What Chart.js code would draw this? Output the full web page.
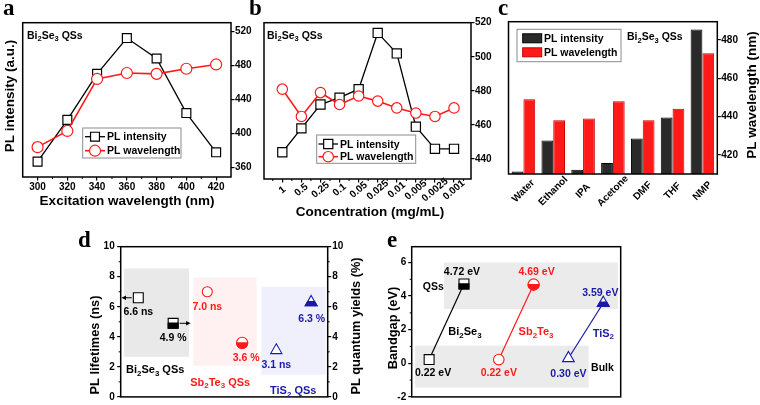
<!DOCTYPE html>
<html><head><meta charset="utf-8">
<script src="https://cdn.jsdelivr.net/npm/chart.js@4.4.1/dist/chart.umd.min.js"></script>
<style>
html,body{margin:0;padding:0;background:#fff;}
#wrap{position:relative;width:760px;height:405px;overflow:hidden;background:#fff;}
#wrap canvas{position:absolute;left:0;top:0;}
</style></head><body>
<div id="wrap">
<canvas id="ca" width="760" height="405"></canvas>
<canvas id="cb" width="760" height="405"></canvas>
<canvas id="cc" width="760" height="405"></canvas>
<canvas id="cd" width="760" height="405"></canvas>
<canvas id="ce" width="760" height="405"></canvas>
</div>
<script>
// ---------------- data ----------------
const excitation = [300, 320, 340, 360, 380, 400, 420];
const excIntensity = [367, 416, 470, 512, 488, 424, 378];
const excWavelength = [384, 403, 464, 471, 470, 476, 481];
const excTicksR = [360, 400, 440, 480, 520];

const concentrations = ['1', '0.5', '0.25', '0.1', '0.05', '0.025', '0.01', '0.005', '0.0025', '0.001'];
const concIntensity = [444, 458, 472, 476, 481, 514, 502, 459, 446, 446];
const concWavelength = [481, 465, 479, 472, 477, 474, 470, 467, 465, 470];
const concTicksR = [440, 460, 480, 500, 520];

const solvents = ['Water', 'Ethanol', 'IPA', 'Acetone', 'DMF', 'THF', 'NMP'];
const solvIntensity = [411.3, 427.5, 412.2, 415.7, 428.5, 439.5, 485.4];
const solvWavelength = [449, 438, 439, 448, 438, 444, 473];
const solvTicksR = [420, 440, 460, 480];

const materials = ['Bi_2Se_3', 'Sb_2Te_3', 'TiS_2'];
const lifetimes = [6.6, 7.0, 3.1];
const quantumYields = [4.9, 3.6, 6.3];
const dTicks = [0, 2, 4, 6, 8, 10];

const bulkGap = [0.22, 0.22, 0.30];
const qsGap = [4.72, 4.69, 3.59];
const eTicks = [-2, 0, 2, 4, 6];

// ---------------- style ----------------
const FONT = '"Liberation Sans", Arial, sans-serif';
const SERIF = '"Liberation Serif", "Times New Roman", serif';
const RED = '#ff1a1a', BLUE = '#1a1aa6', BLACK = '#000';
const matColors = [BLACK, RED, BLUE];
const matMarkers = ['rect', 'circle', 'triangle'];

function fixSize(size) {
  return s => {
    if (s.isHorizontal()) s.height = size; else s.width = size;
    s.paddingLeft = s.paddingRight = s.paddingTop = s.paddingBottom = 0;
  };
}
function tk(extra) { return Object.assign({color: '#000', font: {family: FONT, size: 10, weight: 'bold'}, padding: 1}, extra || {}); }
const grid = {display: true, drawOnChartArea: false, drawTicks: true, tickLength: 3.5, color: '#000', lineWidth: 1.2};
const setTicks = arr => s => { s.ticks = arr.map(v => ({value: v})); };
const base = {responsive: false, animation: false, events: [], devicePixelRatio: 1,
  plugins: {legend: {display: false}, tooltip: {enabled: false}}};

function text(ctx, str, x, y, o) {
  o = o || {};
  const size = o.size || 10.5, fam = o.family || FONT, wt = o.weight || 'bold';
  const parts = []; let buf = '';
  for (let k = 0; k < str.length; k++) {
    if (str[k] === '_' && k + 1 < str.length) { if (buf) parts.push({t: buf, sub: false}); buf = ''; parts.push({t: str[k + 1], sub: true}); k++; }
    else buf += str[k];
  }
  if (buf) parts.push({t: buf, sub: false});
  let total = 0;
  parts.forEach(p => { p.f = wt + ' ' + (p.sub ? size * 0.72 : size) + 'px ' + fam; ctx.font = p.f; p.w = ctx.measureText(p.t).width; total += p.w; });
  ctx.save(); ctx.translate(x, y); if (o.rotate) ctx.rotate(o.rotate);
  let cx = o.align === 'left' ? 0 : o.align === 'right' ? -total : -total / 2;
  ctx.fillStyle = o.color || '#000'; ctx.textBaseline = 'alphabetic'; ctx.textAlign = 'left';
  const bl = o.baseline ? 0 : size * 0.36;
  parts.forEach(p => { ctx.font = p.f; ctx.fillText(p.t, cx, bl + (p.sub ? size * 0.24 : 0)); cx += p.w; });
  ctx.restore();
}
function markerPath(ctx, style, x, y, r) {
  ctx.beginPath();
  if (style === 'rect') { const s = r * Math.SQRT1_2; ctx.rect(x - s, y - s, 2 * s, 2 * s); }
  else if (style === 'triangle') { ctx.moveTo(x, y - r); ctx.lineTo(x + r * 0.866, y + r * 0.5); ctx.lineTo(x - r * 0.866, y + r * 0.5); ctx.closePath(); }
  else ctx.arc(x, y, r, 0, Math.PI * 2);
}
function halfFill(ctx, el, color) {
  const st = el.options.pointStyle, r = el.options.radius;
  const cut = st === 'triangle' ? el.y - 0.2 * r : el.y - 0.1 * r;
  ctx.save(); ctx.beginPath(); ctx.rect(el.x - r - 2, cut, 2 * r + 4, 2 * r + 4); ctx.clip();
  markerPath(ctx, st, el.x, el.y, r); ctx.fillStyle = color; ctx.fill();
  ctx.lineWidth = el.options.borderWidth; ctx.strokeStyle = color; ctx.stroke(); ctx.restore();
}
function frame(ctx, ca) {
  ctx.save(); ctx.strokeStyle = '#000'; ctx.lineWidth = 1.5;
  ctx.strokeRect(ca.left, ca.top, ca.right - ca.left, ca.bottom - ca.top); ctx.restore();
}
function minor(ctx, scale, values, side, len) {
  ctx.save(); ctx.strokeStyle = '#000'; ctx.lineWidth = 1;
  values.forEach(v => {
    const p = scale.getPixelForValue(v); ctx.beginPath();
    if (side === 'bottom') { ctx.moveTo(p, scale.top); ctx.lineTo(p, scale.top + len); }
    else if (side === 'left') { ctx.moveTo(scale.right, p); ctx.lineTo(scale.right - len, p); }
    else { ctx.moveTo(scale.left, p); ctx.lineTo(scale.left + len, p); }
    ctx.stroke();
  });
  ctx.restore();
}
function rotLabels(ctx, scale, deg, cy, size) {
  scale.ticks.forEach((t, i) => {
    const x = scale.getPixelForTick(i);
    ctx.save(); ctx.font = 'bold ' + size + 'px ' + FONT; ctx.translate(x, cy); ctx.rotate(-deg * Math.PI / 180);
    ctx.textAlign = 'center'; ctx.textBaseline = 'middle'; ctx.fillStyle = '#000'; ctx.fillText(String(t.label), 0, 0); ctx.restore();
  });
}
function lineLegend(ctx, chart, L) {
  ctx.save(); ctx.fillStyle = '#fff'; ctx.fillRect(L.x, L.y, L.w, L.h);
  ctx.strokeStyle = '#8c8c8c'; ctx.lineWidth = 1; ctx.strokeRect(L.x, L.y, L.w, L.h);
  chart.data.datasets.forEach((ds, i) => {
    const y = L.rows[i];
    ctx.strokeStyle = ds.borderColor; ctx.lineWidth = ds.borderWidth;
    ctx.beginPath(); ctx.moveTo(L.sx1, y); ctx.lineTo(L.sx2, y); ctx.stroke();
    markerPath(ctx, ds.pointStyle, (L.sx1 + L.sx2) / 2, y, ds.pointRadius);
    ctx.fillStyle = '#fff'; ctx.fill(); ctx.lineWidth = ds.pointBorderWidth; ctx.strokeStyle = ds.pointBorderColor; ctx.stroke();
    text(ctx, ds.label, L.tx, y, {size: 10.5, align: 'left'});
  });
  ctx.restore();
}
function barLegend(ctx, chart, L) {
  ctx.save(); ctx.fillStyle = '#fff'; ctx.fillRect(L.x, L.y, L.w, L.h);
  ctx.strokeStyle = '#8c8c8c'; ctx.lineWidth = 1; ctx.strokeRect(L.x, L.y, L.w, L.h);
  chart.data.datasets.forEach((ds, i) => {
    const y = L.rows[i];
    ctx.fillStyle = ds.backgroundColor; ctx.fillRect(L.sx, y - 4.5, L.sw, 9);
    ctx.strokeStyle = ds.borderColor; ctx.lineWidth = 1; ctx.strokeRect(L.sx, y - 4.5, L.sw, 9);
    text(ctx, ds.label, L.tx, y, {size: 10.5, align: 'left'});
  });
  ctx.restore();
}
function arrow(ctx, x1, y, x2, color) {
  const dir = Math.sign(x2 - x1);
  ctx.save(); ctx.strokeStyle = color; ctx.fillStyle = color; ctx.lineWidth = 1;
  ctx.beginPath(); ctx.moveTo(x1, y); ctx.lineTo(x2 - dir * 3, y); ctx.stroke();
  ctx.beginPath(); ctx.moveTo(x2, y); ctx.lineTo(x2 - dir * 4.5, y - 2.3); ctx.lineTo(x2 - dir * 4.5, y + 2.3); ctx.closePath(); ctx.fill();
  ctx.restore();
}
function shade(ctx, chart, list, yId) {
  const xs = chart.scales.x, ys = chart.scales[yId];
  list.forEach(r => {
    const x0 = xs.getPixelForValue(r.x0), x1 = xs.getPixelForValue(r.x1);
    const y0 = ys.getPixelForValue(r.y1), y1 = ys.getPixelForValue(r.y0);
    ctx.fillStyle = r.color; ctx.fillRect(x0, y0, x1 - x0, y1 - y0);
  });
}

// ---------------- panel a ----------------
new Chart(document.getElementById('ca'), {
  type: 'line',
  data: {datasets: [
    {label: 'PL intensity', data: excitation.map((x, i) => ({x, y: excIntensity[i]})), yAxisID: 'y', order: 1,
     borderColor: BLACK, borderWidth: 1.3, pointStyle: 'rect', pointRadius: 6.3, pointBackgroundColor: '#fff', pointBorderColor: BLACK, pointBorderWidth: 1.2},
    {label: 'PL wavelength', data: excitation.map((x, i) => ({x, y: excWavelength[i]})), yAxisID: 'y2', order: 0,
     borderColor: RED, borderWidth: 1.6, pointStyle: 'circle', pointRadius: 5.5, pointBackgroundColor: '#fff', pointBorderColor: RED, pointBorderWidth: 1.2}
  ]},
  options: Object.assign({}, base, {
    layout: {padding: {left: 22.7, top: 22.7, right: 499, bottom: 198}},
    scales: {
      x: {type: 'linear', min: 290, max: 430, afterBuildTicks: setTicks(excitation), ticks: tk(), grid: grid, border: {display: false}, afterFit: fixSize(30)},
      y: {display: false, min: 349, max: 530},
      y2: {position: 'right', min: 349, max: 530, afterBuildTicks: setTicks(excTicksR), ticks: tk({padding: 0.5}), grid: grid, border: {display: false}, afterFit: fixSize(30)}
    }
  }),
  plugins: [{id: 'decoA', afterDraw(chart) {
    const ctx = chart.ctx, ca = chart.chartArea;
    frame(ctx, ca);
    minor(ctx, chart.scales.x, [310, 330, 350, 370, 390, 410], 'bottom', 2);
    text(ctx, 'a', 3, 15, {size: 23, family: SERIF, align: 'left', baseline: true});
    text(ctx, 'Bi_2Se_3 QSs', 27, 35, {size: 10.5, align: 'left'});
    text(ctx, 'PL intensity (a.u.)', 9, 96, {size: 13.5, rotate: -Math.PI / 2});
    text(ctx, 'Excitation wavelength (nm)', 127, 200, {size: 13.5});
    lineLegend(ctx, chart, {x: 82.7, y: 128, w: 98.3, h: 30, rows: [136.7, 150.7], sx1: 85, sx2: 105, tx: 107});
  }}]
});

// ---------------- panel b ----------------
new Chart(document.getElementById('cb'), {
  type: 'line',
  data: {datasets: [
    {label: 'PL intensity', data: concIntensity.map((y, i) => ({x: i, y})), yAxisID: 'y', order: 1,
     borderColor: BLACK, borderWidth: 1.3, pointStyle: 'rect', pointRadius: 6.5, pointBackgroundColor: '#fff', pointBorderColor: BLACK, pointBorderWidth: 1.2},
    {label: 'PL wavelength', data: concWavelength.map((y, i) => ({x: i, y})), yAxisID: 'y2', order: 0,
     borderColor: RED, borderWidth: 1.6, pointStyle: 'circle', pointRadius: 5.2, pointBackgroundColor: '#fff', pointBorderColor: RED, pointBorderWidth: 1.2}
  ]},
  options: Object.assign({}, base, {
    layout: {padding: {left: 264, top: 22.7, right: 259, bottom: 186}},
    scales: {
      x: {type: 'linear', min: -0.96, max: 9.89, afterBuildTicks: setTicks(concentrations.map((c, i) => i)),
          ticks: tk({display: false, callback: v => concentrations[v]}), grid: grid, border: {display: false}, afterFit: fixSize(40)},
      y: {display: false, min: 428.3, max: 520},
      y2: {position: 'right', min: 428.3, max: 520, afterBuildTicks: setTicks(concTicksR), ticks: tk({padding: 0.5}), grid: grid, border: {display: false}, afterFit: fixSize(30)}
    }
  }),
  plugins: [{id: 'decoB', afterDraw(chart) {
    const ctx = chart.ctx, ca = chart.chartArea;
    frame(ctx, ca);
    minor(ctx, chart.scales.x, [-0.5, 0.5, 1.5, 2.5, 3.5, 4.5, 5.5, 6.5, 7.5, 8.5, 9.5], 'bottom', 2);
    rotLabels(ctx, chart.scales.x, 40, 190, 10);
    text(ctx, 'b', 249, 15, {size: 23, family: SERIF, align: 'left', baseline: true});
    text(ctx, 'Bi_2Se_3 QSs', 267, 35, {size: 10.5, align: 'left'});
    text(ctx, 'Concentration (mg/mL)', 370, 211, {size: 13.5});
    lineLegend(ctx, chart, {x: 316.7, y: 135, w: 99, h: 28.3, rows: [144, 156.7], sx1: 318.5, sx2: 338, tx: 340});
  }}]
});

// ---------------- panel c ----------------
new Chart(document.getElementById('cc'), {
  type: 'bar',
  data: {labels: solvents, datasets: [
    {label: 'PL intensity', data: solvIntensity, yAxisID: 'y', backgroundColor: '#2a2a2a', borderColor: '#000', borderWidth: 1, categoryPercentage: 0.79, barPercentage: 1},
    {label: 'PL wavelength', data: solvWavelength, yAxisID: 'y2', backgroundColor: RED, borderColor: '#c40000', borderWidth: 1, categoryPercentage: 0.79, barPercentage: 1}
  ]},
  options: Object.assign({}, base, {
    layout: {padding: {left: 508.5, top: 21.7, right: 12.7, bottom: 191}},
    scales: {
      x: {ticks: tk({display: false}), grid: {display: false}, border: {display: false}, afterFit: fixSize(40)},
      y: {display: false, min: 410, max: 489.5},
      y2: {position: 'right', min: 410, max: 489.5, afterBuildTicks: setTicks(solvTicksR), ticks: tk({padding: 0.5}), grid: grid, border: {display: false}, afterFit: fixSize(30)}
    }
  }),
  plugins: [{id: 'decoC', afterDraw(chart) {
    const ctx = chart.ctx, ca = chart.chartArea;
    frame(ctx, ca);
    rotLabels(ctx, chart.scales.x, 45, 191, 10);
    text(ctx, 'c', 498, 15, {size: 23, family: SERIF, align: 'left', baseline: true});
    barLegend(ctx, chart, {x: 517, y: 29.3, w: 104, h: 32.4, rows: [38.3, 52.3], sx: 522.7, sw: 19, tx: 544});
    text(ctx, 'Bi_2Se_3 QSs', 627, 36.7, {size: 10.5, align: 'left'});
    text(ctx, 'PL wavelength (nm)', 751.5, 95, {size: 13.5, rotate: -Math.PI / 2});
  }}]
});

// ---------------- panel d ----------------
const dLifeOffset = -0.245, dQyOffset = 0.26;
const dShades = [
  {x0: -0.45, x1: 0.49, y0: 2.67, y1: 8.55, color: '#e9e9e9'},
  {x0: 0.55, x1: 1.47, y0: 2.07, y1: 7.94, color: '#fff1f1'},
  {x0: 1.54, x1: 2.47, y0: 1.48, y1: 7.33, color: '#eff0fc'}
];
const dGroupLabelY = [369.3, 381.7, 390], dGroupLabelDx = [0, -4, 0];
const dLifeLabelDy = [13.6, 14.2, 14], dQyLabelDy = [14.3, 14.7, 16], dQyLabelDx = [0, 4, 0.6];
new Chart(document.getElementById('cd'), {
  type: 'scatter',
  data: {datasets: [
    {label: 'PL lifetimes', data: lifetimes.map((v, i) => ({x: i + dLifeOffset, y: v})), yAxisID: 'y',
     pointStyle: matMarkers, pointRadius: [7, 5, 6.5], pointBorderColor: matColors, pointBackgroundColor: '#fff', pointBorderWidth: 1.1},
    {label: 'PL quantum yields', data: quantumYields.map((v, i) => ({x: i + dQyOffset, y: v})), yAxisID: 'y2',
     pointStyle: matMarkers, pointRadius: [7, 5.6, 6.8], pointBorderColor: matColors, pointBackgroundColor: '#fff', pointBorderWidth: 1.1}
  ]},
  options: Object.assign({}, base, {
    layout: {padding: {left: 90.7, top: 246.7, right: 402.3, bottom: 5}},
    scales: {
      x: {type: 'linear', display: false, min: -0.5, max: 2.5},
      y: {position: 'left', min: 0, max: 10, afterBuildTicks: setTicks(dTicks), ticks: tk({padding: 2.5}), grid: grid, border: {display: false}, afterFit: fixSize(30)},
      y2: {position: 'right', min: 0, max: 10, afterBuildTicks: setTicks(dTicks), ticks: tk({padding: 1}), grid: grid, border: {display: false}, afterFit: fixSize(30)}
    }
  }),
  plugins: [{id: 'decoD',
    beforeDatasetsDraw(chart) { shade(chart.ctx, chart, dShades, 'y'); },
    afterDraw(chart) {
      const ctx = chart.ctx, ca = chart.chartArea;
      const m0 = chart.getDatasetMeta(0).data, m1 = chart.getDatasetMeta(1).data;
      m1.forEach((el, i) => halfFill(ctx, el, matColors[i]));
      frame(ctx, ca);
      minor(ctx, chart.scales.y, [1, 3, 5, 7, 9], 'left', 2);
      minor(ctx, chart.scales.y2, [1, 3, 5, 7, 9], 'right', 2);
      arrow(ctx, m0[0].x - 6.5, m0[0].y, ca.left + 0.8, '#000');
      arrow(ctx, m1[0].x + 6.5, m1[0].y, m1[0].x + 17.5, '#000');
      m0.forEach((el, i) => text(ctx, lifetimes[i].toFixed(1) + ' ns', el.x, el.y + dLifeLabelDy[i], {size: 10.5, color: matColors[i]}));
      m1.forEach((el, i) => text(ctx, quantumYields[i].toFixed(1) + ' %', el.x + dQyLabelDx[i], el.y + dQyLabelDy[i], {size: 10.5, color: matColors[i]}));
      materials.forEach((m, i) => text(ctx, m + ' QSs', chart.scales.x.getPixelForValue(i) + dGroupLabelDx[i], dGroupLabelY[i], {size: 11, color: matColors[i]}));
      text(ctx, 'd', 78, 246.7, {size: 23, family: SERIF, align: 'left', baseline: true});
      text(ctx, 'PL lifetimes (ns)', 94.5, 345, {size: 12.8, rotate: -Math.PI / 2});
      text(ctx, 'PL quantum yields (%)', 355, 326, {size: 12.8, rotate: -Math.PI / 2});
    }}]
});

// ---------------- panel e ----------------
const eBulkOffset = -0.25, eQsOffset = 0.25;
const eShades = [
  {x0: -0.035, x1: 2.46, y0: 3.23, y1: 6.0, color: '#ebebeb'},
  {x0: -0.45, x1: 2.04, y0: -1.45, y1: 1.05, color: '#ebebeb'}
];
const eRadius = [[7, 7], [5.3, 5.6], [6.8, 6.8]];
const eQsLabelDx = [-2, 3, -3], eQsLabelDy = [-12.6, -13, -11];
const eBulkLabelDx = [4, 0, 0], eBulkLabelDy = [13, 12.3, 14.7];
const eNameDx = [1, 2.4, 0], eNameY = [331, 331, 332.7];
new Chart(document.getElementById('ce'), {
  type: 'scatter',
  data: {datasets: materials.map((m, i) => ({
    label: m, showLine: true, borderColor: matColors[i], borderWidth: 1.2,
    data: [{x: i + eBulkOffset, y: bulkGap[i]}, {x: i + eQsOffset, y: qsGap[i]}],
    pointStyle: matMarkers[i], pointRadius: eRadius[i], pointBorderColor: matColors[i], pointBackgroundColor: '#fff', pointBorderWidth: 1.1
  }))},
  options: Object.assign({}, base, {
    layout: {padding: {left: 381.7, top: 246.7, right: 139.3, bottom: 5.7}},
    scales: {
      x: {type: 'linear', display: false, min: -0.5, max: 2.5},
      y: {position: 'left', min: -2, max: 6.94, afterBuildTicks: setTicks(eTicks), ticks: tk({padding: 2}), grid: grid, border: {display: false}, afterFit: fixSize(30)}
    }
  }),
  plugins: [{id: 'decoE',
    beforeDatasetsDraw(chart) { shade(chart.ctx, chart, eShades, 'y'); },
    afterDraw(chart) {
      const ctx = chart.ctx, ca = chart.chartArea;
      materials.forEach((m, i) => {
        const d = chart.getDatasetMeta(i).data;
        halfFill(ctx, d[1], matColors[i]);
        text(ctx, qsGap[i].toFixed(2) + ' eV', d[1].x + eQsLabelDx[i], d[1].y + eQsLabelDy[i], {size: 10.5, color: matColors[i]});
        text(ctx, bulkGap[i].toFixed(2) + ' eV', d[0].x + eBulkLabelDx[i], d[0].y + eBulkLabelDy[i], {size: 10.5, color: matColors[i]});
        text(ctx, m, d[1].x + eNameDx[i], eNameY[i], {size: 11, color: matColors[i]});
      });
      frame(ctx, ca);
      minor(ctx, chart.scales.y, [-1, 1, 3, 5], 'left', 2);
      text(ctx, 'QSs', 433.3, 286, {size: 10.5});
      text(ctx, 'Bulk', 602.5, 367.5, {size: 10.5});
      text(ctx, 'e', 387, 246.7, {size: 23, family: SERIF, align: 'left', baseline: true});
      text(ctx, 'Bandgap (eV)', 392, 328, {size: 12.8, rotate: -Math.PI / 2});
    }}]
});
</script>
</body></html>
